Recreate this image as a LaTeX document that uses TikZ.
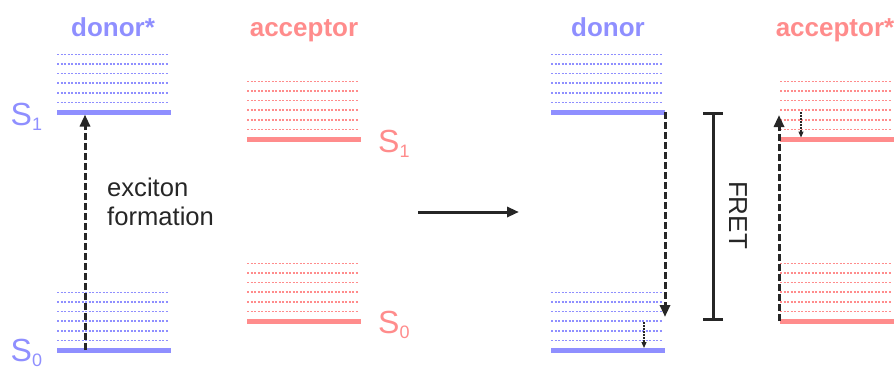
\documentclass[tikz,border=0pt]{standalone}
\usepackage{fontspec}
\setmainfont{Liberation Sans}
\usetikzlibrary{arrows.meta}
\definecolor{donorblue}{RGB}{143,143,255}
\definecolor{accred}{RGB}{255,140,140}
\definecolor{darkline}{RGB}{38,38,38}
\newcommand{\lvlsub}[1]{{\fontsize{18}{20}\selectfont\raisebox{-5pt}{#1}}}

\begin{document}
\begin{tikzpicture}[x=1pt, y=-1pt, >={Triangle[length=12pt, width=10pt]},
  every node/.style={inner sep=0pt},
  state/.style={line width=5pt},
  vib/.style={line width=1.6pt, dash pattern=on 2pt off 1.5pt},
  title/.style={font=\fontsize{26}{30}\selectfont\bfseries, anchor=base},
  term/.style={font=\fontsize{32}{36}\selectfont, anchor=base west},
  jump/.style={->, line width=3pt, dash pattern=on 7pt off 3pt, darkline},
  relax/.style={-{Triangle[length=6pt, width=5pt]}, line width=1.2pt, dash pattern=on 1.5pt off 1.5pt, darkline}]
  \useasboundingbox (0,0) rectangle (896,367);

  % Niveaus: linkes Ende / S1 / S0 / Farbe
  \foreach \x/\ya/\yb/\col in {57/112/350/donorblue, 247/139/321/accred, 551/112/350/donorblue, 780/139/321/accred}{
    \foreach \y in {\ya,\yb}{
      \draw[state, \col] (\x,\y) -- ++(114,0);
      \foreach \k in {1,...,6}
        \draw[vib, \col] (\x,\y-9.6*\k) -- ++(112,0);
    }
  }

  % Titel
  \node[title, donorblue] (tdonorex) at (113,36) {donor*};
  \node[title, accred] (tacc) at (304,36) {acceptor};
  \node[title, donorblue] (tdonor) at (608,36) {donor};
  \node[title, accred] (taccex) at (835,36) {acceptor*};

  % Zustaende
  \node[term, donorblue] (ds1) at (10.5,125) {S\lvlsub{1}};
  \node[term, donorblue] (ds0) at (10.5,361) {S\lvlsub{0}};
  \node[term, accred] (as1) at (378,152) {S\lvlsub{1}};
  \node[term, accred] (as0) at (378,333) {S\lvlsub{0}};

  % Anregung
  \coordinate (exc0) at (85,350);
  \coordinate (exc1) at (85,114.5);
  \draw[jump] (exc0) -- (exc1);
  \node[anchor=base west, align=left, darkline, font=\fontsize{25.6}{28.5}\selectfont] (exc) at (107,225) {exciton\\formation};

  % Uebergang
  \coordinate (go0) at (418,212);
  \coordinate (go1) at (519,212);
  \draw[->, line width=3pt, darkline] (go0) -- (go1);

  % Donor faellt zurueck
  \coordinate (don0) at (665,112);
  \coordinate (don1) at (665,317);
  \draw[jump] (don0) -- (don1);
  \coordinate (drel0) at (644,322);
  \coordinate (drel1) at (644,348);
  \draw[relax] (drel0) -- (drel1);

  % FRET
  \coordinate (fret0) at (713,112);
  \coordinate (fret1) at (713,321);
  \draw[{Bar[width=20pt]}-{Bar[width=20pt]}, line width=3pt, darkline] (fret0) -- (fret1);
  \node[rotate=-90, font=\fontsize{26}{30}\selectfont, darkline] (fretlbl) at (738,215) {FRET};

  % Akzeptor wird angeregt
  \coordinate (acc0) at (779,321);
  \coordinate (acc1) at (779,115);
  \draw[jump] (acc0) -- (acc1);
  \coordinate (arel0) at (801,112);
  \coordinate (arel1) at (801,137.5);
  \draw[relax] (arel0) -- (arel1);
\end{tikzpicture}
\end{document}
